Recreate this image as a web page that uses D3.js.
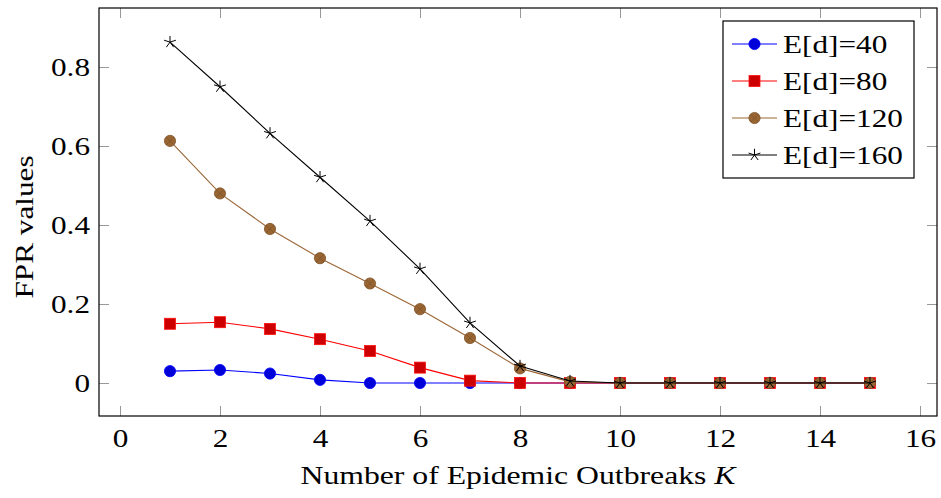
<!DOCTYPE html>
<html>
<head>
<meta charset="utf-8">
<script src="https://cdn.jsdelivr.net/npm/d3@7"></script>
<style>
  html, body { margin: 0; padding: 0; background: #fff; }
  svg { display: block; }
  text { font-family: "Liberation Serif", "Times New Roman", serif; fill: #000; }
</style>
</head>
<body>
<svg id="chart" width="941" height="498"></svg>
<script>
// Number of epidemic outbreaks K
const kValues = [1, 2, 3, 4, 5, 6, 7, 8, 9, 10, 11, 12, 13, 14, 15];

// FPR for each expected degree E[d]
const fpr40  = [0.030, 0.033, 0.024, 0.008, 0, 0, 0, 0, 0, 0, 0, 0, 0, 0, 0];
const fpr80  = [0.150, 0.154, 0.137, 0.111, 0.081, 0.039, 0.006, 0, 0, 0, 0, 0, 0, 0, 0];
const fpr120 = [0.613, 0.480, 0.390, 0.316, 0.252, 0.187, 0.114, 0.037, 0.003, 0, 0, 0, 0, 0, 0];
const fpr160 = [0.863, 0.750, 0.632, 0.521, 0.410, 0.289, 0.152, 0.043, 0.005, 0, 0, 0, 0, 0, 0];

const seriesNames = ["E[d]=40", "E[d]=80", "E[d]=120", "E[d]=160"];

const xTicks = [0, 2, 4, 6, 8, 10, 12, 14, 16];
const yTicks = [0, 0.2, 0.4, 0.6, 0.8];

const xLabel = "Number of Epidemic Outbreaks ";
const xLabelVar = "K";
const yLabel = "FPR values";

// Plot styles per series: line colour, marker fill, marker edge, marker shape
const styles = [
  { line: "#0000ff", fill: "#0000d8", edge: "#0000ff", mark: "circle" },
  { line: "#ff0000", fill: "#cc0000", edge: "#ff1010", mark: "square" },
  { line: "#9c6636", fill: "#996633", edge: "#7e5228", mark: "otimes" },
  { line: "#000000", fill: "none",    edge: "#000000", mark: "star" }
];

const series = [fpr40, fpr80, fpr120, fpr160].map((vals, i) => ({
  name: seriesNames[i],
  style: styles[i],
  points: kValues.map((k, j) => ({ k, v: vals[j] }))
}));

const svg = d3.select("#chart");
const plot = { left: 99, right: 937, top: 8, bottom: 416 };
const FONT = 26;
const STRETCH = 1.2;

const x = d3.scaleLinear().domain([-0.42, 16.34]).range([plot.left, plot.right]);
const y = d3.scaleLinear().domain([-0.0835, 0.9494]).range([plot.bottom, plot.top]);

// widen the serif glyphs a little so labels keep their spread
function widen(sel, f) {
  sel.each(function () {
    const len = this.getComputedTextLength();
    this.setAttribute("textLength", len * f);
    this.setAttribute("lengthAdjust", "spacingAndGlyphs");
  });
}

const fmt = t => (t === 0 ? "0" : d3.format(".1f")(t));

// axes with inward ticks on all four sides
const gB = svg.append("g").attr("transform", `translate(0,${plot.bottom})`)
  .call(d3.axisBottom(x).tickValues(xTicks).tickSize(-10).tickPadding(13).tickFormat(d3.format("d")));
const gT = svg.append("g").attr("transform", `translate(0,${plot.top})`)
  .call(d3.axisTop(x).tickValues(xTicks).tickSize(-10).tickFormat(""));
const gL = svg.append("g").attr("transform", `translate(${plot.left},0)`)
  .call(d3.axisLeft(y).tickValues(yTicks).tickSize(-10).tickPadding(9).tickFormat(fmt));
const gR = svg.append("g").attr("transform", `translate(${plot.right},0)`)
  .call(d3.axisRight(y).tickValues(yTicks).tickSize(-10).tickFormat(""));

[gB, gT, gL, gR].forEach(g => {
  g.select(".domain").remove();
  g.selectAll(".tick line").attr("stroke", "#999").attr("stroke-width", 1);
  g.selectAll(".tick text")
    .attr("font-family", "Liberation Serif, serif")
    .attr("font-size", FONT)
    .attr("fill", "#000");
});
gL.selectAll(".tick text").attr("dy", "0.34em");
widen(gB.selectAll(".tick text"), STRETCH);
widen(gL.selectAll(".tick text"), STRETCH);

// frame
svg.append("rect")
  .attr("x", plot.left).attr("y", plot.top)
  .attr("width", plot.right - plot.left).attr("height", plot.bottom - plot.top)
  .attr("fill", "none").attr("stroke", "#000").attr("stroke-width", 1.2);

// marker drawing
function drawMarker(g, st, cx, cy) {
  if (st.mark === "circle") {
    g.append("circle").attr("cx", cx).attr("cy", cy).attr("r", 5.6)
      .attr("fill", st.fill).attr("stroke", st.edge).attr("stroke-width", 0.8);
  } else if (st.mark === "square") {
    g.append("rect").attr("x", cx - 5.5).attr("y", cy - 5.5).attr("width", 11).attr("height", 11)
      .attr("fill", st.fill).attr("stroke", st.edge).attr("stroke-width", 0.8);
  } else if (st.mark === "otimes") {
    const r = 5.6, d = r * Math.SQRT1_2;
    g.append("circle").attr("cx", cx).attr("cy", cy).attr("r", r)
      .attr("fill", st.fill).attr("stroke", st.edge).attr("stroke-width", 0.8);
    g.append("path")
      .attr("d", `M${cx - d},${cy - d}L${cx + d},${cy + d}M${cx - d},${cy + d}L${cx + d},${cy - d}`)
      .attr("stroke", st.edge).attr("stroke-width", 0.8).attr("fill", "none");
  } else if (st.mark === "star") {
    const r = 6.2;
    let p = "";
    for (let a = 0; a < 5; a++) {
      const ang = -Math.PI / 2 + a * 2 * Math.PI / 5;
      p += `M${cx},${cy}L${cx + r * Math.cos(ang)},${cy + r * Math.sin(ang)}`;
    }
    g.append("path").attr("d", p).attr("stroke", st.edge).attr("stroke-width", 1).attr("fill", "none");
  }
}

const line = d3.line().x(d => x(d.k)).y(d => y(d.v));

series.forEach(s => {
  const g = svg.append("g");
  g.append("path").datum(s.points).attr("d", line)
    .attr("fill", "none").attr("stroke", s.style.line).attr("stroke-width", 1.1);
  s.points.forEach(p => drawMarker(g, s.style, x(p.k), y(p.v)));
});

// axis titles
const xt = svg.append("text")
  .attr("x", (plot.left + plot.right) / 2).attr("y", 484)
  .attr("text-anchor", "middle").attr("font-size", FONT);
xt.append("tspan").text(xLabel);
xt.append("tspan").attr("font-style", "italic").text(xLabelVar);
xt.attr("textLength", 435).attr("lengthAdjust", "spacingAndGlyphs");

const yt = svg.append("text")
  .attr("transform", `translate(33,227) rotate(-90)`)
  .attr("text-anchor", "middle").attr("font-size", FONT)
  .text(yLabel);
widen(yt, STRETCH);

// legend
const leg = svg.append("g");
leg.append("rect").attr("x", 723).attr("y", 21).attr("width", 191).attr("height", 157)
  .attr("fill", "#fff").attr("stroke", "#000").attr("stroke-width", 1.2);
series.forEach((s, i) => {
  const cy = 44 + i * 37;
  leg.append("line").attr("x1", 732).attr("x2", 777).attr("y1", cy).attr("y2", cy)
    .attr("stroke", s.style.line).attr("stroke-width", 1.1);
  drawMarker(leg, s.style, 754.5, cy);
  const t = leg.append("text").attr("x", 783).attr("y", cy + 9)
    .attr("font-size", FONT).text(s.name);
  widen(t, STRETCH);
});
</script>
</body>
</html>
